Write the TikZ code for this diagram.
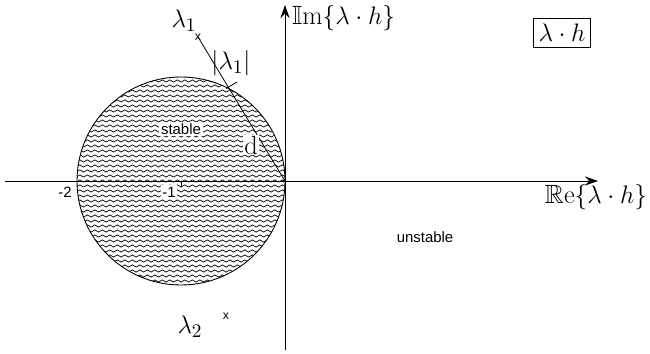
\documentclass[tikz,border=0pt]{standalone}
\usepackage{amssymb}
\usepackage{amsmath}
\usepackage{fontspec}
\setsansfont{Liberation Sans}
\usetikzlibrary{arrows.meta, positioning, calc, decorations.pathmorphing}

\begin{document}
\begin{tikzpicture}[
    axis/.style={-{Stealth[length=2.6mm, width=1.8mm]}, line width=0.5pt},
    wave/.style={line width=0.4pt, decorate,
                 decoration={snake, amplitude=0.22mm, segment length=1.5mm}},
    region/.style={font=\sffamily\fontsize{8.5}{10}\selectfont, fill=white, inner sep=1pt},
    ticklbl/.style={font=\sffamily\fontsize{8.5}{10}\selectfont, inner sep=1pt},
    xmark/.style={font=\sffamily\fontsize{7}{7}\selectfont, inner sep=0pt},
    lbl/.style={font=\fontsize{15}{17}\selectfont, inner sep=1pt},
]
\useasboundingbox (-5.7,-3.46) rectangle (7.3,3.62);

\coordinate (origin) at (0,0);
\coordinate (centre) at (-2.08,0);

\begin{scope}
  \clip (centre) circle (2.08);
  \foreach \y in {-2.1,-2.0,...,2.15}
    \draw[wave] (-4.3,\y) -- (0.2,\y);
\end{scope}
\draw[line width=0.5pt] (centre) circle (2.08);

\draw[axis] (-5.6,0) -- (6.26,0);
\draw[axis] (0,-3.38) -- (0,3.52);

\node[lbl, anchor=west] (im) at (0.1,3.26) {$\mathbb{I}\mathrm{m}\{\lambda\cdot h\}$};
\node[lbl] (re) at (6.22,-0.32) {$\mathbb{R}\mathrm{e}\{\lambda\cdot h\}$};
\node[lbl, draw, line width=0.5pt, inner sep=3pt] (plane) at (5.54,2.96) {$\lambda\cdot h$};

\node[xmark] (l1) at (-1.74,2.88) {x};
\node[lbl] (l1lab) at (-2.02,3.2) {$\lambda_1$};
\draw[line width=0.45pt] (l1.center) -- (origin);
\draw[line width=0.45pt] (-1.18,1.85) -- (-0.96,1.98);
\node[lbl] (abs) at (-1.08,2.36) {$|\lambda_1|$};
\node[lbl, fill=white, inner sep=0.5pt] (dist) at (-0.68,0.72) {d};

\node[xmark] (l2) at (-1.18,-2.7) {x};
\node[lbl] (l2lab) at (-1.9,-2.92) {$\lambda_2$};

\node[region] (stab) at (-2.08,1.04) {stable};
\node[region, fill=none] (unstab) at (2.8,-1.12) {unstable};

\draw[line width=0.4pt] (-2.08,0) -- (-2.08,-0.12);
\node[ticklbl, fill=white] (m1) at (-2.32,-0.22) {-1};
\node[ticklbl] (m2) at (-4.4,-0.22) {-2};
\end{tikzpicture}
\end{document}
